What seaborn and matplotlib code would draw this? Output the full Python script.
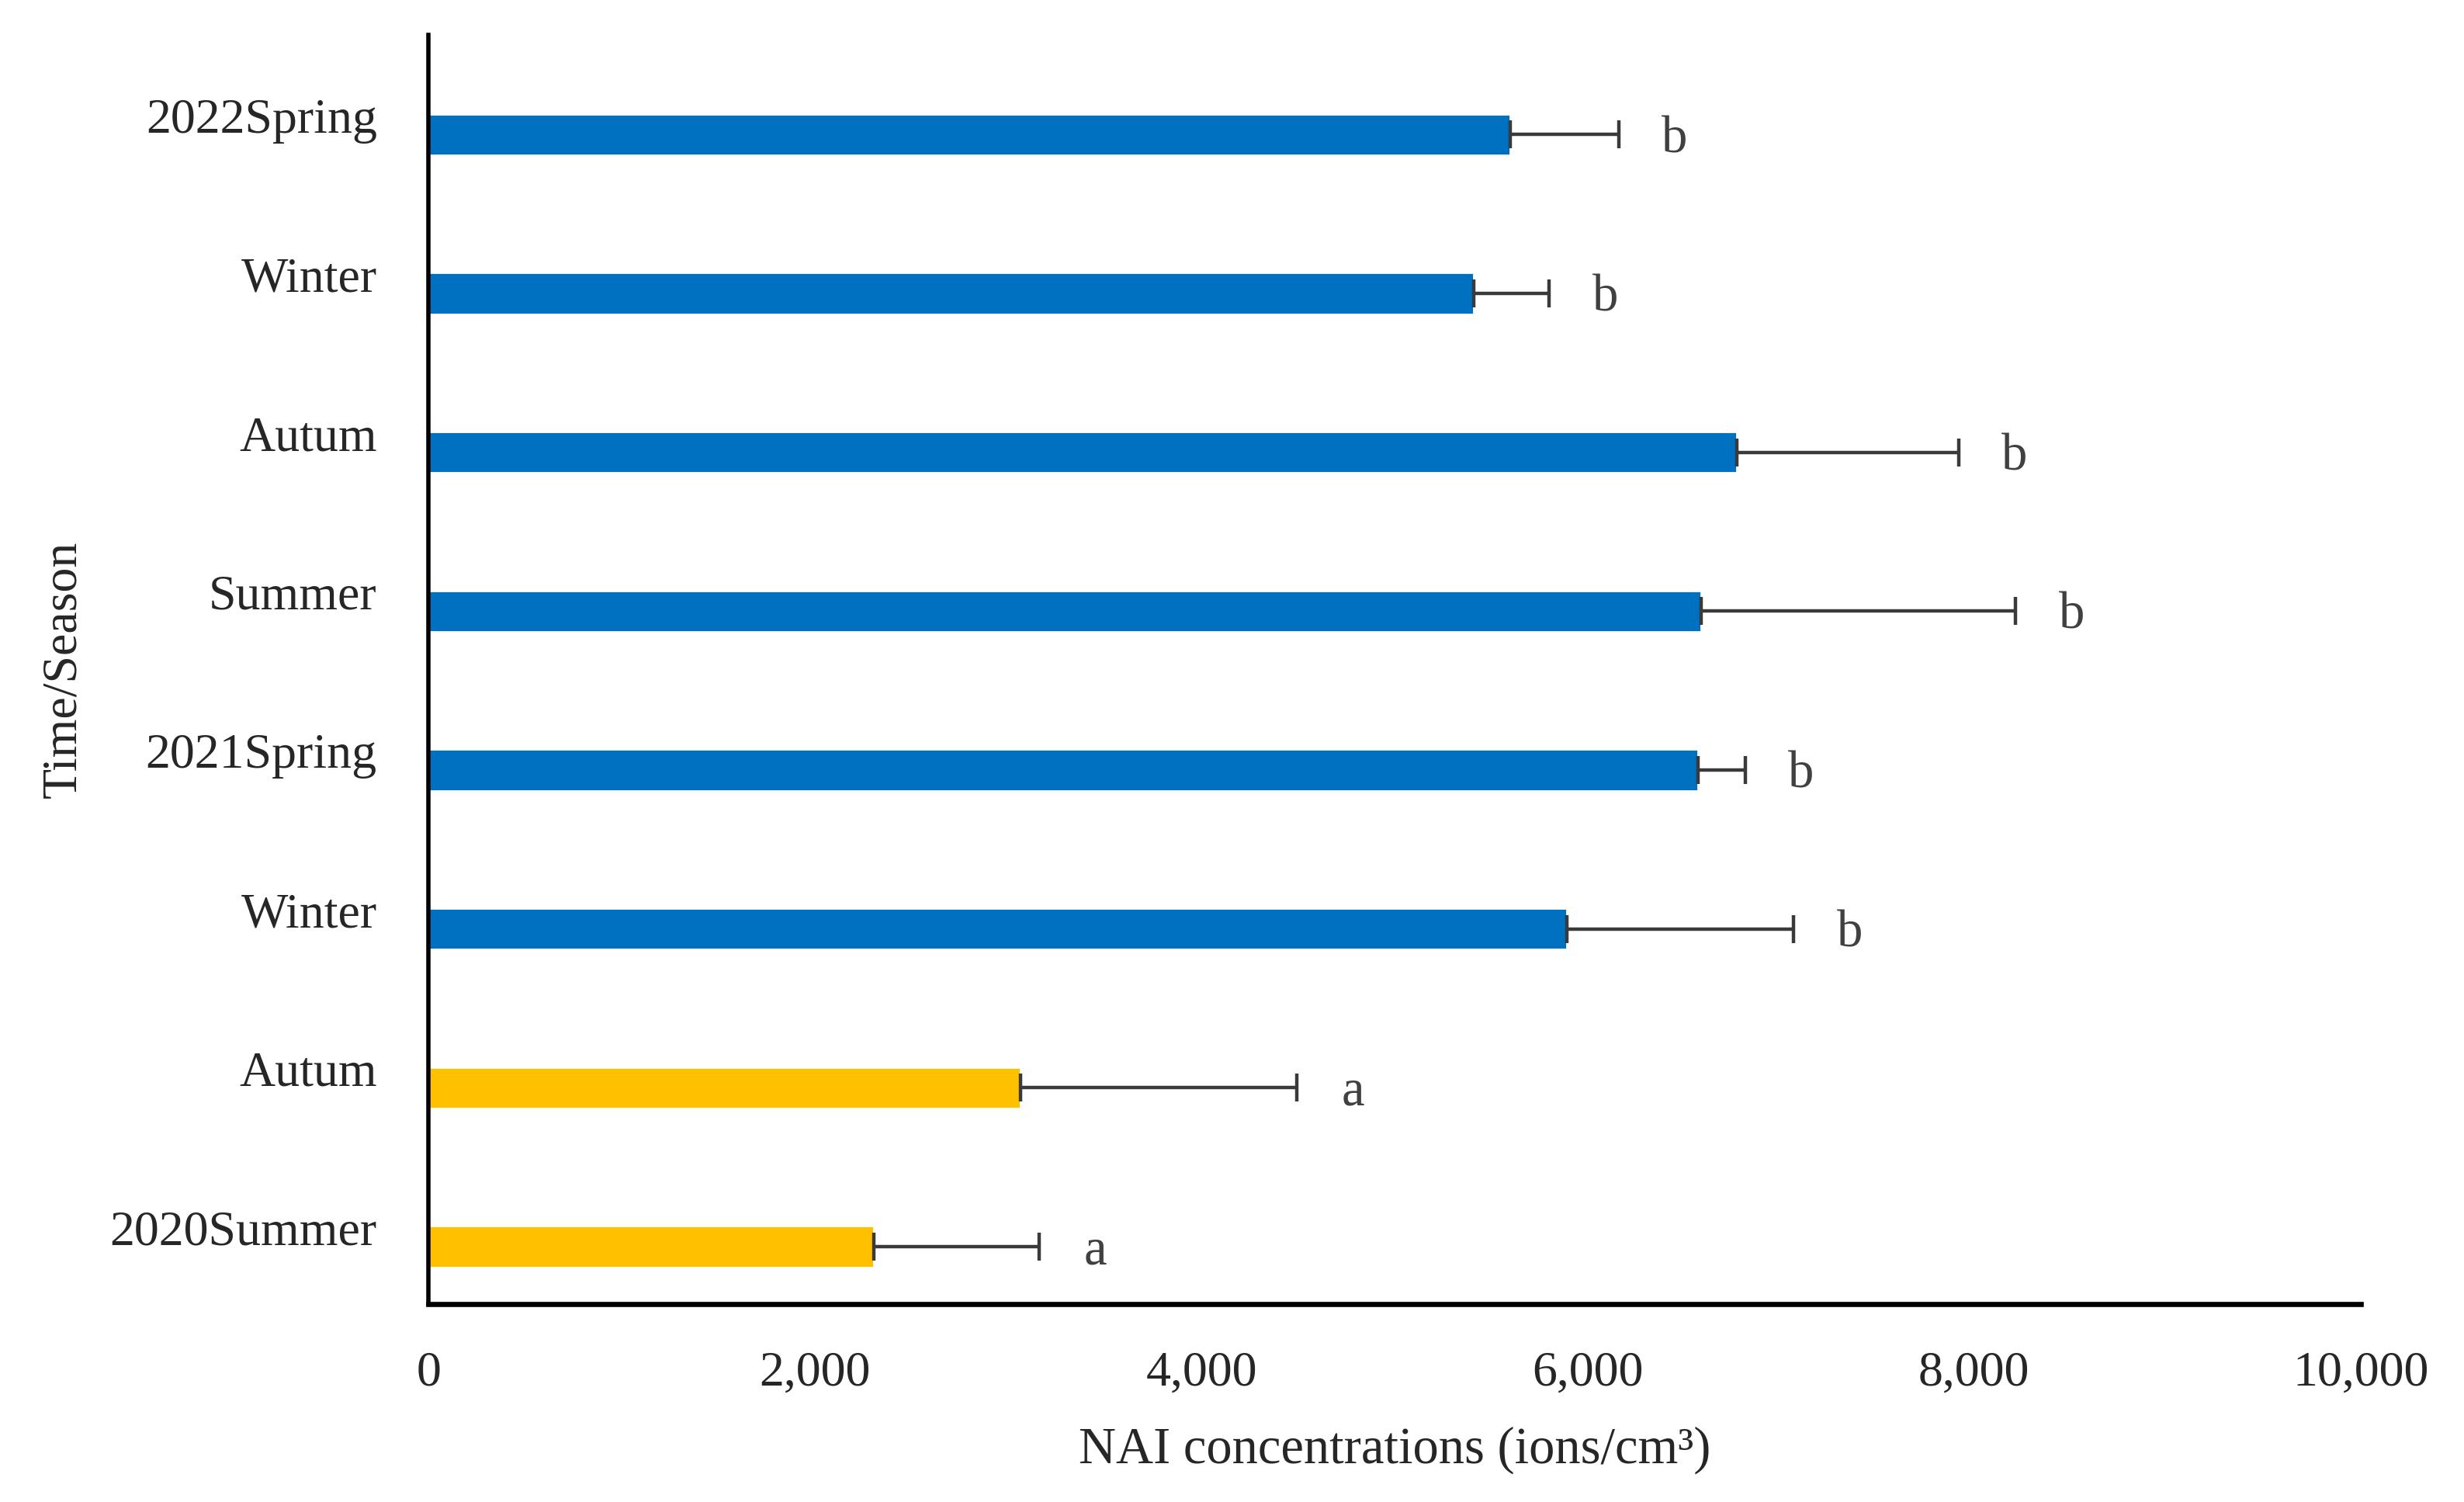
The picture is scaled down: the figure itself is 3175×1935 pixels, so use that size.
import matplotlib
matplotlib.use("Agg")
import matplotlib.pyplot as plt
import seaborn as sns
import numpy as np
import pandas as pd

periods = ["2022Spring", "2021Winter", "2021Autum", "2021Summer",
           "2021Spring", "2020Winter", "2020Autum", "2020Summer"]
labels = ["2022Spring", "Winter", "Autum", "Summer",
          "2021Spring", "Winter", "Autum", "2020Summer"]
means = [5600, 5410, 6770, 6585, 6570, 5890, 3065, 2305]
errs = [560, 390, 1150, 1630, 245, 1175, 1430, 855]
letters = ["b", "b", "b", "b", "b", "b", "a", "a"]
groups = ["after", "after", "after", "after", "after", "after", "before", "before"]
palette = {"after": "#0070C0", "before": "#FFC000"}

xticks = [0, 2000, 4000, 6000, 8000, 10000]
xticklabels = ["0", "2,000", "4,000", "6,000", "8,000", "10,000"]

df = pd.DataFrame({"period": periods, "mean": means, "group": groups})

sns.set_theme(style="white")
plt.rcParams["font.family"] = ["Liberation Serif", "DejaVu Serif"]

fig = plt.figure(figsize=(15.875, 9.675), dpi=200)
ax = fig.add_axes([0.174, 0.132, 0.784, 0.845])

sns.barplot(data=df, y="period", x="mean", hue="group", palette=palette,
            order=periods, dodge=False, width=0.26, legend=False, ax=ax,
            errorbar=None, saturation=1)

ypos = np.arange(len(periods))
ax.errorbar(means, ypos, xerr=[np.zeros(len(errs)), errs], fmt="none",
            ecolor="#3a3a3a", elinewidth=1.6, capsize=6.5, capthick=1.6)

for m, e, l, y in zip(means, errs, letters, ypos):
    ax.text(m + e + 290, y + 0.03, l, ha="center", va="center",
            fontsize=24, color="#404040")

ax.set_xlim(0, 10000)
ax.set_ylim(len(periods) - 1 + 0.36, -0.63)
ax.set_xticks(xticks)
ax.set_xticklabels(xticklabels, fontsize=23)
ax.set_yticks(ypos - 0.12)
ax.set_yticklabels(labels, fontsize=23)
ax.tick_params(axis="both", length=0)
ax.tick_params(axis="y", pad=24)
ax.tick_params(axis="x", pad=22)

ax.set_xlabel("NAI concentrations (ions/cm\u00b3)", fontsize=24, labelpad=14)
ax.set_ylabel("Time/Season", fontsize=23, labelpad=11)

for s in ["top", "right"]:
    ax.spines[s].set_visible(False)
ax.spines["left"].set_color("black")
ax.spines["left"].set_linewidth(2.0)
ax.spines["bottom"].set_color("black")
ax.spines["bottom"].set_linewidth(2.4)

fig.savefig("out.png", dpi=200, facecolor="white")
